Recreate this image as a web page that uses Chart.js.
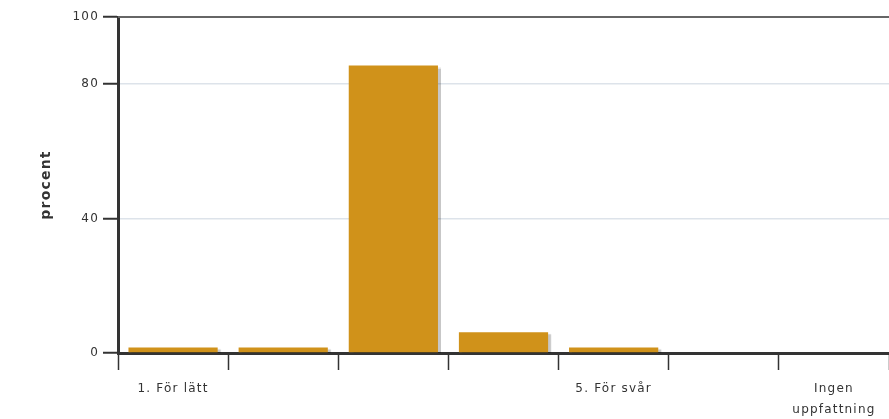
<!DOCTYPE html>
<html>
<head>
<meta charset="utf-8">
<script src="https://cdn.jsdelivr.net/npm/chart.js@4/dist/chart.umd.min.js"></script>
<style>
  html, body { margin: 0; padding: 0; background: #fff; }
  #wrap { width: 889px; height: 419px; }
</style>
</head>
<body>
<div id="wrap"><canvas id="chart"></canvas></div>
<script>
const categories = ["1. För lätt", "", "", "", "5. För svår", "", ["Ingen", "uppfattning"]];
const percentValues = [1.6, 1.6, 85.6, 6.2, 1.6, 0, 0];
const yTickValues = [0, 40, 80, 100];

// spaced-out lettering like the original
const spacing = {
  id: "spacing",
  beforeInit(chart) { chart.ctx.letterSpacing = "1.2px"; },
  beforeDraw(chart) { chart.ctx.letterSpacing = "1.2px"; }
};

// soft drop shadow behind the bars
const barShadow = {
  id: "barShadow",
  beforeDatasetsDraw(chart) {
    const ctx = chart.ctx;
    ctx.save();
    ctx.shadowColor = "rgba(0,0,0,0.22)";
    ctx.shadowOffsetX = 3;
    ctx.shadowOffsetY = 2;
    ctx.shadowBlur = 1;
  },
  afterDatasetsDraw(chart) {
    chart.ctx.restore();
  }
};

// grey frame line along the top of the plot
const topLine = {
  id: "topLine",
  afterDraw(chart) {
    const { ctx, chartArea } = chart;
    ctx.save();
    ctx.strokeStyle = "#666";
    ctx.lineWidth = 2;
    ctx.beginPath();
    ctx.moveTo(chartArea.left, chartArea.top);
    ctx.lineTo(chartArea.right, chartArea.top);
    ctx.stroke();
    ctx.restore();
  }
};

new Chart(document.getElementById("chart"), {
  type: "bar",
  data: {
    labels: categories,
    datasets: [{
      label: "procent",
      data: percentValues,
      backgroundColor: "#d0921a",
      borderWidth: 0,
      barPercentage: 0.81,
      categoryPercentage: 1
    }]
  },
  plugins: [spacing, barShadow, topLine],
  options: {
    responsive: true,
    maintainAspectRatio: false,
    animation: false,
    layout: { padding: { top: 17, right: 0, left: 0, bottom: 0 } },
    plugins: {
      legend: { display: false },
      tooltip: { enabled: false }
    },
    scales: {
      x: {
        grid: {
          offset: true,
          drawOnChartArea: false,
          tickLength: 17,
          tickWidth: 1.5,
          tickColor: "#333"
        },
        border: { display: true, color: "#333", width: 3 },
        ticks: {
          color: "#333",
          font: { family: "DejaVu Sans", size: 12, lineHeight: 1.7 },
          padding: 9,
          maxRotation: 0,
          autoSkip: false
        },
        afterFit: (scale) => { scale.height = 66; }
      },
      y: {
        min: 0,
        max: 100,
        afterBuildTicks: (scale) => {
          scale.ticks = yTickValues.map(v => ({ value: v }));
        },
        grid: {
          color: "#dde3ea",
          lineWidth: 1.5,
          tickLength: 15,
          tickWidth: 2,
          tickColor: "#333"
        },
        border: { display: true, color: "#333", width: 3 },
        ticks: {
          color: "#333",
          font: { family: "DejaVu Sans", size: 12 },
          padding: 4
        },
        title: {
          display: true,
          text: "procent",
          color: "#333",
          font: { family: "DejaVu Sans", size: 14, weight: "bold" },
          padding: { top: 38, bottom: 0 }
        },
        afterFit: (scale) => { scale.width = 118; }
      }
    }
  }
});
</script>
</body>
</html>
